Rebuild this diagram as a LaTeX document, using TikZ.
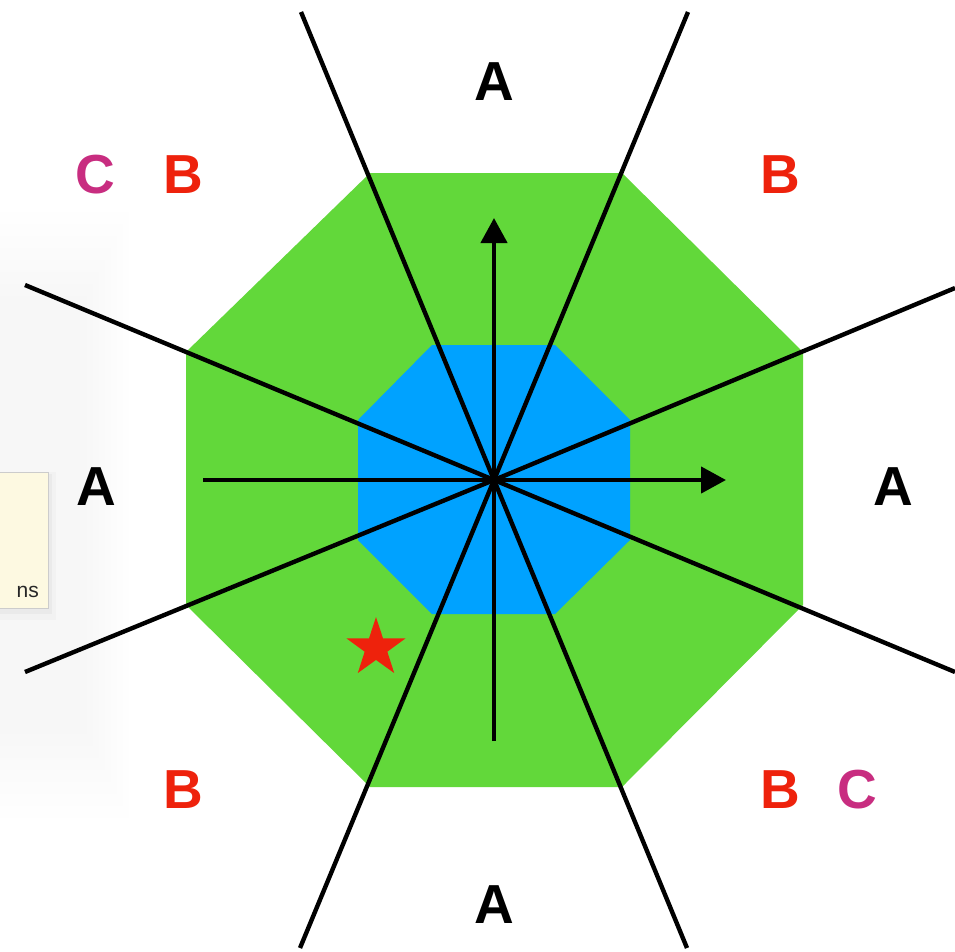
\documentclass[tikz,border=0pt]{standalone}
\usepackage{fontspec}
\setmainfont{Liberation Sans}
\usetikzlibrary{shapes.geometric,arrows.meta}
\definecolor{octgreen}{HTML}{62D83A}
\definecolor{octblue}{HTML}{00A2FF}
\definecolor{lblred}{HTML}{EE220C}
\definecolor{lblmag}{HTML}{C82D80}
\definecolor{tipfill}{HTML}{FDF9E1}
\begin{document}
\begin{tikzpicture}[x=1pt,y=-1pt,
  lbl/.style={font=\fontsize{55}{60}\selectfont\bfseries, inner sep=0pt},
  ray/.style={line width=4.4pt, black},
  axis/.style={line width=4.4pt, black, -{Triangle[length=25pt,width=26pt]}}]
\useasboundingbox (0,0) rectangle (955,951);
\fill[white] (0,0) rectangle (955,951);
% faint shadow of tooltip
\foreach \i in {1,...,8}{
  \fill[black, opacity=0.004] (-10,{200+\i*12}) rectangle ({135-\i*6},{830-\i*12});
}
% octagons
\fill[octgreen] (370,173) -- (622,173) -- (803,352) -- (803,605) -- (622,787) -- (370,787) -- (186,605) -- (186,352) -- cycle;
\fill[octblue] (432,345) -- (555,345) -- (630,420) -- (630,540) -- (555,614) -- (432,614) -- (358,540) -- (358,420) -- cycle;
% rays
\coordinate (c) at (494,480);
\coordinate (r1a) at (301,12);  \coordinate (r1b) at (687,948);
\coordinate (r2a) at (688,12);  \coordinate (r2b) at (300,948);
\coordinate (r3a) at (25,285);  \coordinate (r3b) at (955,672);
\coordinate (r4a) at (25,672);  \coordinate (r4b) at (955,288);
\draw[ray] (r1a) -- (c) -- (r1b);
\draw[ray] (r2a) -- (c) -- (r2b);
\draw[ray] (r3a) -- (c) -- (r3b);
\draw[ray] (r4a) -- (c) -- (r4b);
% axes
\coordinate (hx0) at (203,480); \coordinate (hx1) at (726,480);
\coordinate (vy0) at (494,741); \coordinate (vy1) at (494,218);
\draw[axis] (hx0) -- (hx1);
\draw[axis] (vy0) -- (vy1);
% star
\node[star, star points=5, star point ratio=2.6, fill=lblred, minimum size=62pt, inner sep=0pt] (st) at (376,648) {};
% labels
\node[lbl] (aT) at (494,82) {A};
\node[lbl] (aL) at (96,487) {A};
\node[lbl] (aR) at (893,487) {A};
\node[lbl] (aB) at (494,905) {A};
\node[lbl, lblred] (bTL) at (183,175) {B};
\node[lbl, lblred] (bTR) at (780,175) {B};
\node[lbl, lblred] (bBL) at (183,790) {B};
\node[lbl, lblred] (bBR) at (780,790) {B};
\node[lbl, lblmag] (cTL) at (95,175) {C};
\node[lbl, lblmag] (cBR) at (857,790) {C};
% tooltip box
\fill[black, opacity=0.03] (-2,474) rectangle (52,614);
\fill[black, opacity=0.02] (-2,472) rectangle (56,620);
\draw[fill=tipfill, draw=black!20, line width=0.8pt] (-2,472) rectangle (48,608);
\node[font=\fontsize{21}{24}\selectfont, anchor=base east, inner sep=0pt, text=black!85] (tip) at (39,597) {ns};
\end{tikzpicture}
\end{document}
